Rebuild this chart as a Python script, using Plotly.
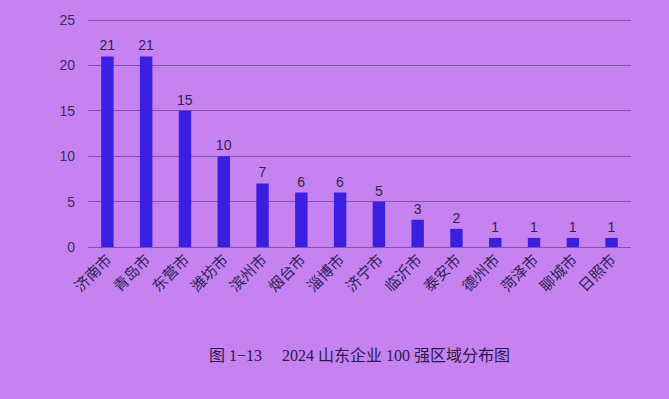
import plotly.graph_objects as go

cities = ["济南市", "青岛市", "东营市", "潍坊市", "滨州市", "烟台市", "淄博市",
          "济宁市", "临沂市", "泰安市", "德州市", "菏泽市", "聊城市", "日照市"]
counts = [21, 21, 15, 10, 7, 6, 6, 5, 3, 2, 1, 1, 1, 1]
y_ticks = [0, 5, 10, 15, 20, 25]
caption = "图 1−13　 2024 山东企业 100 强区域分布图"

fig = go.Figure()
fig.add_trace(go.Bar(
    x=cities, y=counts,
    marker=dict(color="#3a1fe0", line=dict(width=0)),
    text=[str(v) for v in counts], textposition="outside",
    constraintext="none",
    textfont=dict(family="Liberation Sans, Arial, sans-serif", size=14, color="#2e1f55"),
    cliponaxis=False,
))

fig.update_layout(
    width=669, height=399,
    margin=dict(l=88, r=38, t=16, b=152),
    paper_bgcolor="#c582f0",
    plot_bgcolor="#c582f0",
    bargap=0.68,
    showlegend=False,
    font=dict(family="Noto Sans CJK SC, sans-serif", color="#2e1f55"),
    xaxis=dict(
        tickangle=-45, tickfont=dict(size=15, family="Noto Sans CJK SC", color="#2e1f55"),
        showgrid=False, showline=False, ticks="", zeroline=False,
    ),
    yaxis=dict(
        range=[0, 25.45], tickvals=y_ticks,
        tickfont=dict(size=14, family="Liberation Sans, Arial, sans-serif", color="#3a2a60"),
        showgrid=True, gridcolor="#7d55a8", gridwidth=1,
        zeroline=True, zerolinecolor="#7d55a8", zerolinewidth=1,
        ticks="", ticklabelstandoff=12,
    ),
    annotations=[dict(
        text=caption, xref="paper", yref="paper", x=0.5, y=-0.47,
        xanchor="center", yanchor="middle", showarrow=False,
        font=dict(size=16, family="Liberation Serif, Noto Sans CJK SC", color="#2a1a4a"),
    )],
)

fig.write_html("out.html")
